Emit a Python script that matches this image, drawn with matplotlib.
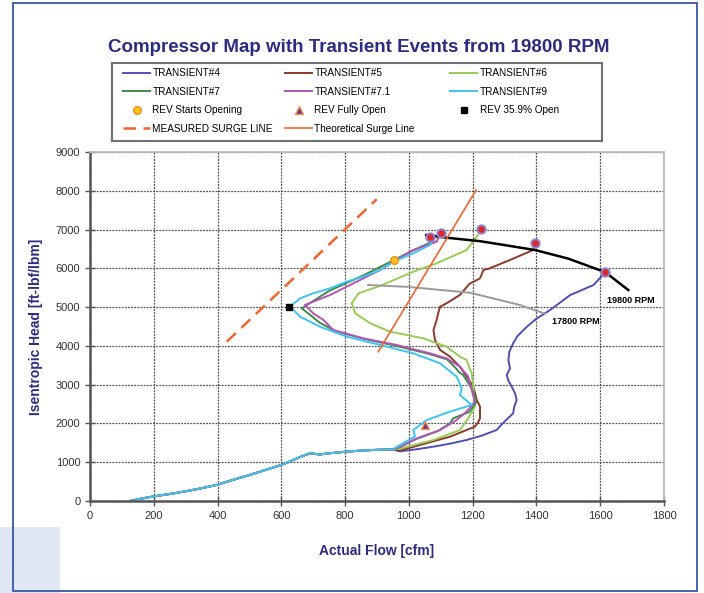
import matplotlib
matplotlib.use("Agg")
import matplotlib.pyplot as plt
from matplotlib.patches import Rectangle

plt.rcParams['font.family'] = ['Liberation Sans', 'DejaVu Sans']

# --- datos ---
# tramo comun de bajo caudal (todas las curvas terminan por aqui)
tail_x = [950, 900, 850, 800, 750, 720, 690, 660, 630, 600, 550, 500, 450, 400, 350, 300, 250, 200, 160, 125]
tail_y = [1330, 1320, 1300, 1270, 1230, 1200, 1230, 1140, 1030, 930, 800, 670, 550, 420, 330, 250, 180, 120, 60, 0]

t4_x = [1616, 1579, 1506, 1443, 1400, 1370, 1340, 1327, 1315, 1312, 1317, 1307, 1312, 1317, 1333, 1338, 1330, 1327, 1300, 1275, 1230, 1181, 1130, 1077, 1020, 972]
t4_y = [5898, 5570, 5312, 4927, 4700, 4496, 4250, 4066, 3850, 3636, 3420, 3250, 3100, 3034, 2776, 2605, 2420, 2261, 2050, 1831, 1690, 1573, 1480, 1401, 1330, 1280]

t5_x = [1397, 1390, 1317, 1250, 1234, 1223, 1190, 1160, 1118, 1098, 1092, 1087, 1077, 1082, 1098, 1129, 1160, 1181, 1202, 1213, 1223, 1223, 1215, 1207, 1129, 1035, 972]
t5_y = [6662, 6473, 6215, 5990, 5957, 5742, 5600, 5313, 5098, 5012, 4850, 4668, 4410, 4152, 3894, 3722, 3464, 3206, 2948, 2604, 2432, 2132, 2000, 1917, 1659, 1444, 1300]

t6_x = [1226, 1213, 1181, 1087, 1014, 909, 842, 821, 832, 879, 941, 1045, 1118, 1160, 1181, 1197, 1202, 1207, 1186, 1160, 1077, 972]
t6_y = [7006, 6817, 6473, 6130, 5914, 5545, 5355, 5098, 4840, 4582, 4367, 4195, 3980, 3722, 3636, 3292, 2948, 2433, 2132, 1831, 1573, 1350]

t7_x = [1080, 1077, 1010, 940, 855, 750, 664, 690, 720, 770, 860, 960, 1060, 1120, 1150, 1155, 1170, 1190, 1205, 1212, 1190, 1139, 1129, 1090, 1020, 972]
t7_y = [6850, 6700, 6450, 6160, 5810, 5420, 4969, 4800, 4600, 4380, 4180, 4000, 3800, 3650, 3400, 3335, 3250, 3000, 2750, 2562, 2300, 2132, 2003, 1800, 1590, 1390]

t71_x = [1101, 1087, 1014, 951, 910, 857, 805, 753, 700, 674, 700, 732, 763, 857, 962, 1066, 1118, 1160, 1186, 1197, 1207, 1181, 1150, 1098, 1025, 972]
t71_y = [6920, 6687, 6473, 6172, 5957, 5742, 5527, 5313, 5141, 5055, 4840, 4668, 4410, 4195, 4023, 3808, 3679, 3464, 3206, 2862, 2562, 2304, 2089, 1831, 1616, 1400]

t9_x = [1066, 1077, 1066, 1014, 951, 910, 857, 805, 753, 700, 659, 627, 659, 721, 805, 910, 1014, 1098, 1150, 1166, 1160, 1197, 1129, 1056, 1014, 1019, 972]
t9_y = [6834, 6774, 6602, 6387, 6172, 5957, 5785, 5657, 5485, 5356, 5227, 5012, 4754, 4496, 4238, 4023, 3808, 3550, 3206, 2905, 2733, 2476, 2304, 2089, 1831, 1660, 1444]

# lineas de velocidad
rpm198_x = [1054, 1118, 1223, 1300, 1397, 1500, 1616, 1688]
rpm198_y = [6860, 6790, 6700, 6600, 6470, 6250, 5900, 5440]
rpm178_x = [872, 1000, 1192, 1348, 1427]
rpm178_y = [5570, 5520, 5370, 5055, 4830]

# lineas de surge
msurge_x = [429, 899]
msurge_y = [4109, 7781]
tsurge_x = [904, 1211]
tsurge_y = [3851, 8021]

# eventos
rev_start = (953, 6215)
rev_full = (1051, 1960)
rev_359 = (624, 4990)
op_x = [1066, 1101, 1226, 1397, 1616]
op_y = [6817, 6920, 7006, 6662, 5898]

navy = '#2d2c80'

fig = plt.figure(figsize=(7.04, 5.93), dpi=100)
fig.patches.append(Rectangle((0, 0), 60 / 704, 66 / 593, transform=fig.transFigure,
                             facecolor='#e2e7f5', edgecolor='none', zorder=0))
fig.patches.append(Rectangle((13 / 704, 2 / 593), 684 / 704, 588 / 593, transform=fig.transFigure,
                             facecolor='none', edgecolor='#3a55a5', linewidth=1.3, zorder=1))

ax = fig.add_axes([90 / 704, 1 - 501 / 593, 574 / 704, 349 / 593])
ax.set_xlim(0, 1800)
ax.set_ylim(0, 9000)
ax.set_xticks(range(0, 1801, 200))
ax.set_yticks(range(0, 9001, 1000))
ax.grid(True, color='#505050', linestyle=(0, (1.5, 1)), linewidth=0.9)
ax.tick_params(direction='inout', length=7, width=1, color='#555555', labelcolor='#333333', labelsize=8)
for s in ['left', 'bottom']:
    ax.spines[s].set_color('#555555')
    ax.spines[s].set_linewidth(1.8)
for s in ['top', 'right']:
    ax.spines[s].set_color('#bbbbbb')
    ax.spines[s].set_linewidth(1.3)

lw = 1.4
h4, = ax.plot(t4_x + tail_x, t4_y + tail_y, color='#5050b4', lw=lw, label='TRANSIENT#4')
h5, = ax.plot(t5_x + tail_x, t5_y + tail_y, color='#8b3a2b', lw=lw, label='TRANSIENT#5')
h6, = ax.plot(t6_x + tail_x, t6_y + tail_y, color='#98cc55', lw=lw, label='TRANSIENT#6')
h7, = ax.plot(t7_x + tail_x, t7_y + tail_y, color='#3d8a4c', lw=lw, label='TRANSIENT#7')
h71, = ax.plot(t71_x + tail_x, t71_y + tail_y, color='#b455b4', lw=lw, label='TRANSIENT#7.1')
h9, = ax.plot(t9_x + tail_x, t9_y + tail_y, color='#3ec3f2', lw=lw, label='TRANSIENT#9')

ax.plot(rpm198_x, rpm198_y, color='black', lw=1.8)
ax.plot(rpm178_x, rpm178_y, color='#9a9a9a', lw=1.4)
ax.text(1622, 5180, '19800 RPM', fontsize=6.5, fontweight='bold', va='center')
ax.text(1449, 4625, '17800 RPM', fontsize=6.5, fontweight='bold', va='center')

hm, = ax.plot(msurge_x, msurge_y, color='#f26530', lw=1.8, dashes=(5, 3), label='MEASURED SURGE LINE')
ht, = ax.plot(tsurge_x, tsurge_y, color='#f26530', lw=1.2, label='Theoretical Surge Line')

ax.plot(op_x, op_y, 'o', ms=6, mfc='#e02525', mec='#8e84d4', mew=1.4, zorder=5)
hs, = ax.plot(*rev_start, 'o', ms=5.5, mfc='#ffc21a', mec='#f39020', mew=1, zorder=5,
              label='REV Starts Opening')
hf, = ax.plot(*rev_full, '^', ms=6, mfc='#6b3c8c', mec='#f39050', mew=1, zorder=5,
              label='REV Fully Open')
hq, = ax.plot(*rev_359, 's', ms=5, mfc='black', mec='black', zorder=5, label='REV 35.9% Open')

ax.set_xlabel('Actual Flow [cfm]', fontsize=10, fontweight='bold', color=navy, labelpad=17)
ax.set_ylabel('Isentropic Head [ft-lbf/lbm]', fontsize=10, fontweight='bold', color=navy, labelpad=9)
fig.text(359 / 704, 1 - 47 / 593, 'Compressor Map with Transient Events from 19800 RPM',
         fontsize=13.5, fontweight='bold', color=navy, ha='center', va='center')

# leyenda: un marco y tres columnas colocadas a mano
fig.patches.append(Rectangle((112 / 704, 1 - 141 / 593), 490 / 704, 78 / 593, transform=fig.transFigure,
                             facecolor='white', edgecolor='#707070', linewidth=1.5, zorder=2))
columnas = [([h4, h7, hs, hm], 123), ([h5, h71, hf, ht], 285), ([h6, h9, hq], 450)]
for hs_col, xpix in columnas:
    leg = fig.legend(handles=hs_col, labels=[h.get_label() for h in hs_col],
                     loc='upper left', bbox_to_anchor=(xpix / 704, 1 - 68 / 593),
                     fontsize=7.2, frameon=False, handlelength=2.7, handletextpad=0.25,
                     labelspacing=0.86, borderpad=0, borderaxespad=0)
    leg.set_zorder(3)

fig.savefig('out.png', dpi=100)
